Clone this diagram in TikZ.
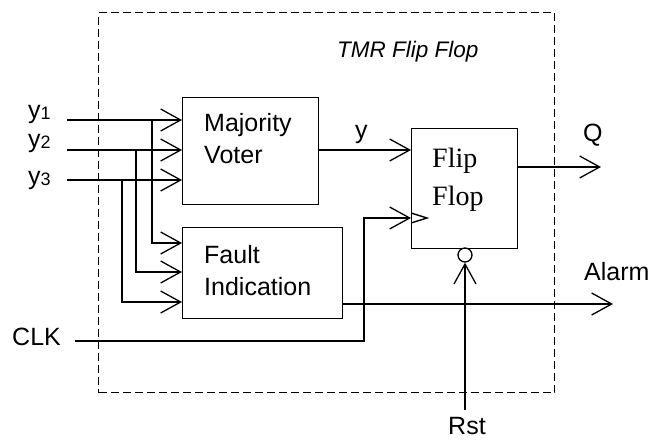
\documentclass[tikz,border=0pt]{standalone}
\usepackage{fontspec}
\setmainfont{Liberation Sans}
\newfontfamily\serifff{Liberation Serif}
\usetikzlibrary{arrows.meta}
\begin{document}
\begin{tikzpicture}[x=1pt,y=-1pt,
  wire/.style={line width=1.4pt},
  arr/.style={wire,-{Straight Barb[length=20pt,width=22pt,line width=1.3pt]}},
  box/.style={draw,line width=1.4pt,anchor=north west,inner sep=0pt,minimum width=#1},
  lbl/.style={anchor=base west,inner sep=0pt,font=\fontsize{25}{25}\selectfont},
  ffl/.style={anchor=base west,inner sep=0pt,font=\serifff\fontsize{28}{28}\selectfont}]
\path[use as bounding box] (0,0) rectangle (653,439);
% dashed enclosure
\node[draw,dash pattern=on 8pt off 4pt,line width=1.3pt,anchor=north west,inner sep=0pt,
      minimum width=456pt,minimum height=380pt] (tmr) at (98,12) {};
\node[anchor=base west,inner sep=0pt,font=\itshape\fontsize{22.5}{22.5}\selectfont] (tmrt) at (337,57) {TMR Flip Flop};
% blocks
\node[box=136pt,minimum height=107pt] (mv) at (182,97) {};
\node[box=160pt,minimum height=91pt] (fi) at (182,227) {};
\node[box=106pt,minimum height=120pt] (ff) at (411,128) {};
\node[lbl] (mv1) at (204,131) {Majority};
\node[lbl] (mv2) at (204,163) {Voter};
\node[lbl] (fi1t) at (204,263) {Fault};
\node[lbl] (fi2t) at (204,295) {Indication};
\node[ffl] (ff1) at (432,167) {Flip};
\node[ffl] (ff2) at (432,205) {Flop};
% inputs
\node[lbl] (ly1) at (28,118) {y\raisebox{-1pt}{\fontsize{18}{18}\selectfont 1}};
\node[lbl] (ly2) at (28,147) {y\raisebox{-1pt}{\fontsize{18}{18}\selectfont 2}};
\node[lbl] (ly3) at (28,184) {y\raisebox{-1pt}{\fontsize{18}{18}\selectfont 3}};
\coordinate (in1) at (67,120);
\coordinate (in2) at (67,150);
\coordinate (in3) at (67,180);
\draw[arr] (in1) -- (in1 -| mv.west);
\draw[arr] (in2) -- (in2 -| mv.west);
\draw[arr] (in3) -- (in3 -| mv.west);
\coordinate (b1) at (152,243);
\coordinate (b2) at (136,272);
\coordinate (b3) at (122,302);
\draw[arr] (b1 |- in1) -- (b1) -- (b1 -| fi.west);
\draw[arr] (b2 |- in2) -- (b2) -- (b2 -| fi.west);
\draw[arr] (b3 |- in3) -- (b3) -- (b3 -| fi.west);
% voter output
\draw[arr] (mv.east |- in2) -- (in2 -| ff.west);
\node[lbl] (ly) at (355,138) {y};
% clock
\node[lbl] (lclk) at (12,345) {CLK};
\coordinate (clk) at (75,341);
\coordinate (ck) at (364,218);
\draw[arr] (clk) -| (ck) -- (ck -| ff.west);
\draw[wire] (ff.west |- ck) ++(0,-5) -- ++(16,5) -- ++(-16,5);
% Q output
\coordinate (qend) at (601,167);
\draw[arr] (ff.east |- qend) -- (qend);
\node[lbl] (lq) at (583,141) {Q};
% alarm
\coordinate (alend) at (613,304);
\draw[arr] (fi.east |- alend) -- (alend);
\node[lbl] (lal) at (584,280) {Alarm};
% reset
\node[draw,circle,minimum size=14pt,inner sep=0pt,line width=1.3pt] (inv) at (465,255) {};
\coordinate (rst) at (465,410);
\draw[arr] (rst) -- (inv.south);
\node[lbl] (lrst) at (448,434) {Rst};
\end{tikzpicture}
\end{document}
